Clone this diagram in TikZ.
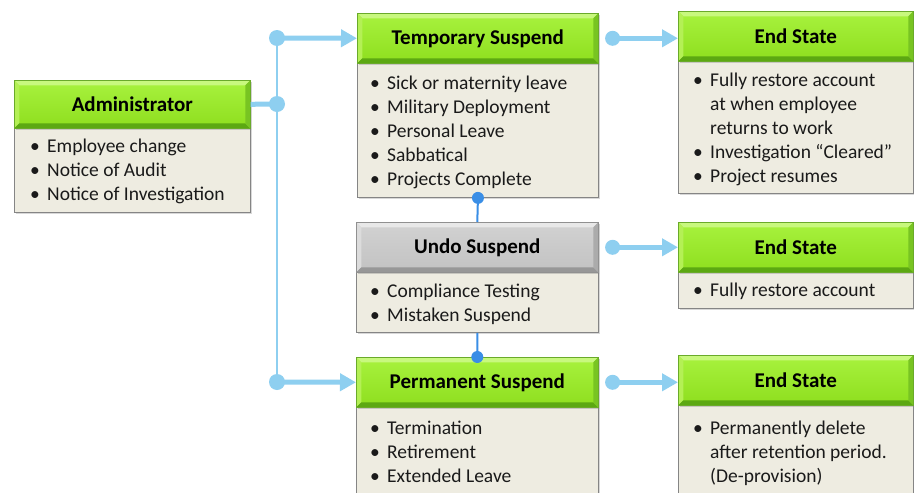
\documentclass[tikz,border=0pt]{standalone}
\usepackage{fontspec}
\setmainfont{Carlito}
\usetikzlibrary{arrows.meta,shadows,calc}
\definecolor{conn}{HTML}{8ECFF0}
\definecolor{dconn}{HTML}{3A8EE6}
\definecolor{bodyfill}{HTML}{EEECE1}
\definecolor{bodyline}{HTML}{858585}
\definecolor{gfillt}{HTML}{A8F23E}
\definecolor{gfillb}{HTML}{8EDE1E}
\definecolor{gtop}{HTML}{C8F87E}
\definecolor{gleft}{HTML}{B4F055}
\definecolor{gbot}{HTML}{5CA812}
\definecolor{gright}{HTML}{78C422}
\definecolor{gline}{HTML}{6AAA2A}
\definecolor{yfillt}{HTML}{D2D2D2}
\definecolor{yfillb}{HTML}{C2C2C2}
\definecolor{ytop}{HTML}{E8E8E8}
\definecolor{yleft}{HTML}{DCDCDC}
\definecolor{ybot}{HTML}{979797}
\definecolor{yright}{HTML}{ABABAB}
\definecolor{yline}{HTML}{909090}
\definecolor{txt}{HTML}{1A1A1A}
\newcommand{\blist}[1]{{\fontsize{19.5}{24}\selectfont\begin{tabular}{@{}p{17pt}@{}l@{}}#1\end{tabular}}}
\tikzset{
  bevel/.style n args={4}{path picture={
    \coordinate (pnw) at (path picture bounding box.north west);
    \coordinate (pne) at (path picture bounding box.north east);
    \coordinate (psw) at (path picture bounding box.south west);
    \coordinate (pse) at (path picture bounding box.south east);
    \fill[#1] (pnw) -- (pne) -- ([shift={(-5pt,-5pt)}]pne) -- ([shift={(5pt,-5pt)}]pnw) -- cycle;
    \fill[#2] (pnw) -- ([shift={(5pt,-5pt)}]pnw) -- ([shift={(5pt,5pt)}]psw) -- (psw) -- cycle;
    \fill[#3] (psw) -- (pse) -- ([shift={(-5pt,5pt)}]pse) -- ([shift={(5pt,5pt)}]psw) -- cycle;
    \fill[#4] (pne) -- (pse) -- ([shift={(-5pt,5pt)}]pse) -- ([shift={(-5pt,-5pt)}]pne) -- cycle;
  }},
  hdr/.style={rectangle, anchor=north west, inner sep=0pt, minimum height=50pt,
    top color=gfillt, bottom color=gfillb, draw=gline, line width=0.6pt,
    bevel={gtop}{gleft}{gbot}{gright},
    font=\fontsize{21}{24}\selectfont\bfseries, text=black,
    drop shadow={shadow xshift=1.5pt, shadow yshift=-1.5pt, opacity=0.35}},
  ghdr/.style={hdr, top color=yfillt, bottom color=yfillb, draw=yline,
    bevel={ytop}{yleft}{ybot}{yright}},
  bodybox/.style={rectangle, anchor=north west, inner sep=0pt, fill=bodyfill, draw=bodyline,
    line width=0.9pt, drop shadow={shadow xshift=1.5pt, shadow yshift=-1.5pt, opacity=0.3}},
  listtext/.style={anchor=north west, inner sep=0pt, text=txt},
  lconn/.style={conn, line width=5pt},
  carrow/.style={conn, line width=5pt, -{Triangle[length=16pt,width=17pt]}},
  vconn/.style={conn, line width=2.5pt},
  dline/.style={dconn, line width=2pt},
}
\begin{document}
\begin{tikzpicture}[x=1pt,y=-1pt]
\useasboundingbox (0,0) rectangle (914,493);
\fill[white] (0,0) rectangle (914,493);

% Administrator
\node[bodybox, minimum width=236pt, minimum height=84pt] (admb) at (14,128) {};
\node[hdr, minimum width=236pt, minimum height=48pt] (admh) at (14,80) {Administrator};
\node[listtext] (admt) at ($(admb.north west)+(16,7)$) {\blist{\textbullet & Employee change\\ \textbullet & Notice of Audit\\ \textbullet & Notice of Investigation}};

% Temporary Suspend
\node[bodybox, minimum width=241pt, minimum height=134pt] (tsb) at (357,63) {};
\node[hdr, minimum width=241pt] (tsh) at (357,13) {Temporary Suspend};
\node[listtext] (tst) at ($(tsb.north west)+(13,9)$) {\blist{\textbullet & Sick or maternity leave\\ \textbullet & Military Deployment\\ \textbullet & Personal Leave\\ \textbullet & Sabbatical\\ \textbullet & Projects Complete}};

% End State 1
\node[bodybox, minimum width=235pt, minimum height=132pt] (es1b) at (678,61) {};
\node[hdr, minimum width=235pt] (es1h) at (678,11) {End State};
\node[listtext] (es1t) at ($(es1b.north west)+(15,8)$) {\blist{\textbullet & Fully restore account\\ & at when employee\\ & returns to work\\ \textbullet & Investigation “Cleared”\\ \textbullet & Project resumes}};

% Undo Suspend
\node[bodybox, minimum width=242pt, minimum height=60pt] (usb) at (356,272) {};
\node[ghdr, minimum width=242pt] (ush) at (356,222) {Undo Suspend};
\node[listtext] (ust) at ($(usb.north west)+(14,8)$) {\blist{\textbullet & Compliance Testing\\ \textbullet & Mistaken Suspend}};

% End State 2
\node[bodybox, minimum width=235pt, minimum height=36pt] (es2b) at (678,272) {};
\node[hdr, minimum width=235pt] (es2h) at (678,222) {End State};
\node[listtext] (es2t) at ($(es2b.north west)+(15,7)$) {\blist{\textbullet & Fully restore account}};

% Permanent Suspend
\node[bodybox, minimum width=242pt, minimum height=100pt] (psb) at (356,407) {};
\node[hdr, minimum width=242pt] (psh) at (356,357) {Permanent Suspend};
\node[listtext] (pst) at ($(psb.north west)+(14,10)$) {\blist{\textbullet & Termination\\ \textbullet & Retirement\\ \textbullet & Extended Leave}};

% End State 3
\node[bodybox, minimum width=235pt, minimum height=100pt] (es3b) at (678,405) {};
\node[hdr, minimum width=235pt] (es3h) at (678,355) {End State};
\node[listtext] (es3t) at ($(es3b.north west)+(15,12)$) {\blist{\textbullet & Permanently delete\\ & after retention period.\\ & (De-provision)}};

% Left connectors
\coordinate (j1) at (277,38);
\coordinate (j2) at (277,104);
\coordinate (j3) at (277,382);
\draw[vconn] (j1) -- (j3);
\draw[lconn] (admh.east) -- (j2);
\draw[carrow] (j1) -- (tsh.west);
\draw[carrow] (j3) -- (psh.west);
\foreach \j in {j1,j2,j3} \fill[conn] (\j) circle[radius=8pt];

% Right connectors
\coordinate (r1) at ($(tsh.east)+(14,0)$);
\coordinate (r2) at ($(ush.east)+(14,0)$);
\coordinate (r3) at ($(psh.east)+(14,0)$);
\draw[carrow] (r1) -- (es1h.west |- r1);
\draw[carrow] (r2) -- (es2h.west |- r2);
\draw[carrow] (r3) -- (es3h.west |- r3);
\foreach \r in {r1,r2,r3} \fill[conn] (\r) circle[radius=7.5pt];

% Dark connectors
\draw[dline] (tsb.south) -- (ush.north);
\fill[dconn] (tsb.south) circle[radius=6pt];
\draw[dline] (usb.south) -- (psh.north);
\fill[dconn] (psh.north) circle[radius=6pt];
\end{tikzpicture}
\end{document}
